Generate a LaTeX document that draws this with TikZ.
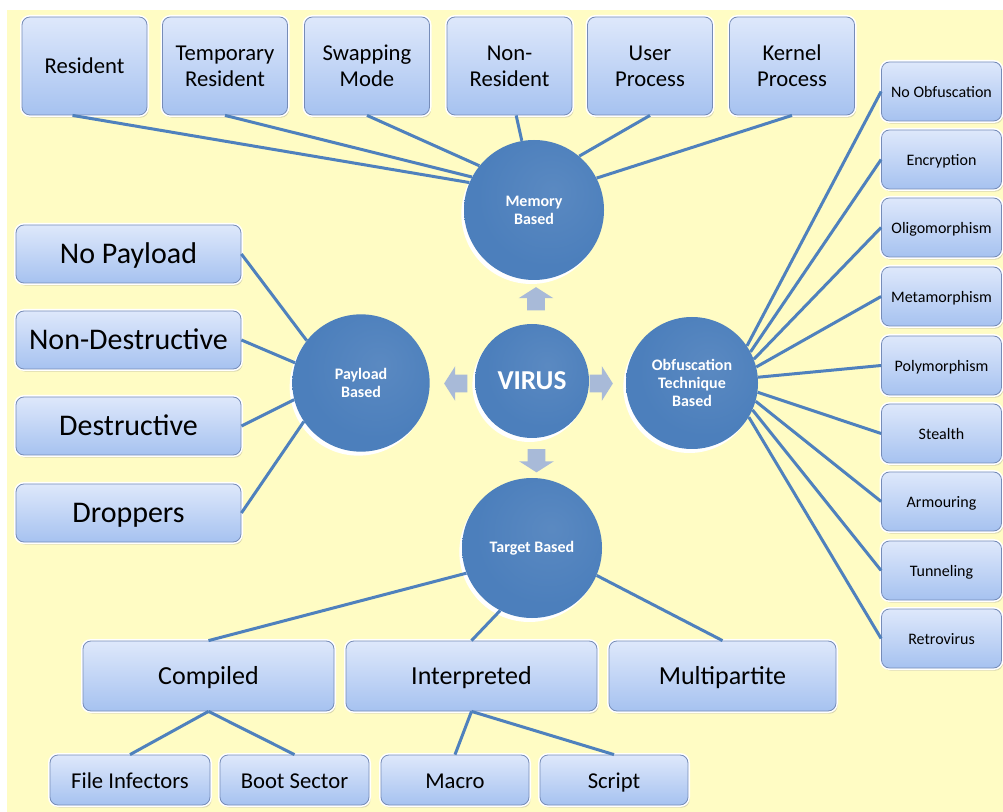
\documentclass[tikz,border=0pt]{standalone}
\usepackage{fontspec}
\setmainfont{Carlito}
\usetikzlibrary{shadows}
\usetikzlibrary{shapes.arrows}

\definecolor{bgyellow}{RGB}{255,252,196}
\definecolor{hubblue}{RGB}{76,127,188}
\definecolor{hubdark}{RGB}{40,76,124}
\definecolor{linkblue}{RGB}{79,129,189}
\definecolor{boxtop}{RGB}{222,232,251}
\definecolor{boxbot}{RGB}{166,194,240}
\definecolor{boxedge}{RGB}{118,140,184}
\definecolor{arrowgrey}{RGB}{168,186,216}

\pgfdeclareradialshading{hubshade}{\pgfpoint{7bp}{7bp}}{%
  color(0bp)=(hubblue!92!white); color(25bp)=(hubblue); color(44bp)=(hubblue);
  color(51bp)=(hubdark!60!hubblue); color(60bp)=(hubdark); color(80bp)=(hubdark)}

\begin{document}
\begin{tikzpicture}[x=0.75pt,y=0.75pt,yscale=-1,xscale=1,
  leaf/.style={draw=boxedge, line width=0.6pt, rounded corners=6pt,
    top color=boxtop, bottom color=boxbot, align=center, inner sep=0pt,
    drop shadow={shadow xshift=1.2pt, shadow yshift=-2pt, opacity=0.3},
    preaction={draw=white, line width=3pt}},
  topleaf/.style={leaf, minimum width=93.75pt, minimum height=73.5pt,
    font=\fontsize{17}{19.5}\selectfont},
  payleaf/.style={leaf, minimum width=168.75pt, minimum height=43.5pt,
    text height=19.5pt, text depth=5pt, font=\fontsize{22.5}{26}\selectfont},
  obfleaf/.style={leaf, minimum width=90pt, minimum height=44.25pt,
    text height=11.2pt, text depth=2.6pt, font=\fontsize{12}{14}\selectfont},
  tgtleaf/.style={leaf, minimum height=52.5pt,
    text height=17.6pt, text depth=4.3pt, font=\fontsize{19.5}{22}\selectfont},
  subleaf/.style={leaf, minimum height=37.5pt,
    text height=16pt, text depth=3.7pt, font=\fontsize{17}{19}\selectfont},
  hub/.style={circle, shade, shading=hubshade, text=white, align=center, inner sep=0pt,
    font=\bfseries\fontsize{12}{13.5}\selectfont,
    general shadow={fill=white, shadow xshift=-2pt, shadow yshift=-3pt}},
  link/.style={draw=linkblue, line width=2.25pt},
  blockarr/.style={single arrow, fill=arrowgrey, inner sep=6.375pt, minimum height=17.25pt,
    single arrow head extend=6.4pt, single arrow tip angle=115}]

\useasboundingbox (0,0) rectangle (1003,812);
%Shape: Rectangle [background]
\fill [bgyellow] (7,10) rectangle (1003,812);

% Hub Nodes
\node [hub, minimum size=105pt] (mem) at (534,210) {Memory\\Based};
\node [hub, minimum size=85.5pt, font=\bfseries\fontsize{20.5}{24}\selectfont] (virus) at (532,381) {VIRUS};
\node [hub, minimum size=103pt] (pay) at (361,383) {Payload\\Based};
\node [hub, minimum size=99pt] (obf) at (692,383) {Obfuscation\\Technique\\Based};
\node [hub, minimum size=105pt] (tgt) at (532,548) {Target Based};

% Block Arrows
\node [blockarr, rotate=90] (aup) at (536,301.5) {};
\node [blockarr, rotate=180] (aleft) at (458.5,383.5) {};
\node [blockarr] (aright) at (598.5,383.5) {};
\node [blockarr, rotate=-90] (adown) at (536.5,458) {};

% Text Node: memory based
\node [topleaf] (res) at (84.5,66) {Resident};
\node [topleaf] (tmpres) at (225,66) {Temporary\\Resident};
\node [topleaf] (swap) at (367,66) {Swapping\\Mode};
\node [topleaf] (nonres) at (509.5,66) {Non-\\Resident};
\node [topleaf] (user) at (650,66) {User\\Process};
\node [topleaf] (kernel) at (792,66) {Kernel\\Process};

% Text Node: payload based
\node [payleaf] (nopay) at (128.5,254) {No Payload};
\node [payleaf] (nondes) at (128.5,340) {Non-Destructive};
\node [payleaf] (des) at (128.5,426) {Destructive};
\node [payleaf] (drop) at (128.5,513) {Droppers};

% Text Node: obfuscation technique based
\node [obfleaf] (noobf) at (941.5,91.5) {No Obfuscation};
\node [obfleaf] (encr) at (941.5,159.5) {Encryption};
\node [obfleaf] (oligo) at (941.5,227.5) {Oligomorphism};
\node [obfleaf] (meta) at (941.5,296.5) {Metamorphism};
\node [obfleaf] (poly) at (941.5,365.5) {Polymorphism};
\node [obfleaf] (stealth) at (941.5,433.5) {Stealth};
\node [obfleaf] (armour) at (941.5,501.5) {Armouring};
\node [obfleaf] (tunnel) at (941.5,570.5) {Tunneling};
\node [obfleaf] (retro) at (941.5,638.5) {Retrovirus};

% Text Node: target based
\node [tgtleaf, minimum width=188.25pt] (comp) at (208.5,676) {Compiled};
\node [tgtleaf, minimum width=188.25pt] (interp) at (471.5,676) {Interpreted};
\node [tgtleaf, minimum width=170.25pt] (multi) at (722.5,676) {Multipartite};
\node [subleaf, minimum width=120pt] (fileinf) at (130,780) {File Infectors};
\node [subleaf, minimum width=111.75pt] (boot) at (294.5,780) {Boot Sector};
\node [subleaf, minimum width=111pt] (macro) at (455,780) {Macro};
\node [subleaf, minimum width=111pt] (script) at (614,780) {Script};

% Connection
\draw [link] ([xshift=-9pt]res.south) -- (mem.157);
\draw [link] (tmpres.south) -- (mem.152);
\draw [link] (swap.south) -- (mem.141);
\draw [link] ([xshift=5pt]nonres.south) -- (mem.100);
\draw [link] (user.south) -- (mem.50);
\draw [link] (kernel.south) -- (mem.27);
% Connection
\draw [link] (nopay.east) -- (pay.142);
\draw [link] (nondes.east) -- (pay.163);
\draw [link] (des.east) -- (pay.194);
\draw [link] (drop.east) -- (pay.214);
% Connection
\draw [link] (obf.34) -- (noobf.west);
\draw [link] (obf.28) -- (encr.west);
\draw [link] (obf.21) -- (oligo.west);
\draw [link] (obf.14) -- (meta.west);
\draw [link] (obf.5) -- (poly.west);
\draw [link] (obf.-8) -- (stealth.west);
\draw [link] (obf.-16) -- (armour.west);
\draw [link] (obf.-24) -- (tunnel.west);
\draw [link] (obf.-31) -- (retro.west);
% Connection
\draw [link] (tgt.201) -- (comp.north);
\draw [link] (tgt.243) -- (interp.north);
\draw [link] (tgt.337) -- (multi.north);
\draw [link] (comp.south) -- (fileinf.north);
\draw [link] (comp.south) -- (boot.north);
\draw [link] (interp.south) -- (macro.north);
\draw [link] (interp.south) -- (script.north);

\end{tikzpicture}
\end{document}
